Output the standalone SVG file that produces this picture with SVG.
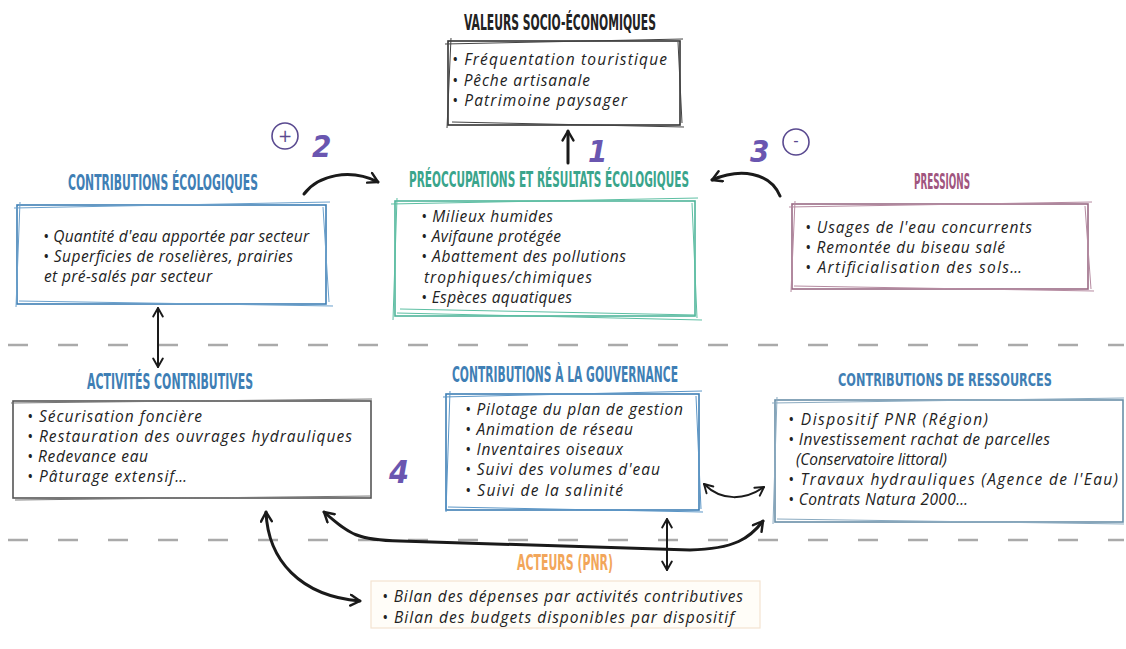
<svg xmlns="http://www.w3.org/2000/svg" width="1126" height="649" viewBox="0 0 1126 649">
<style>
.t{font-family:"DejaVu Sans Condensed","Liberation Sans",sans-serif;font-weight:bold;font-size:21px;text-anchor:middle}
.b{font-family:"Open Sans","Liberation Sans",sans-serif;font-style:italic;font-size:15.5px;fill:#222}
.n{font-family:"DejaVu Sans Condensed","Liberation Sans",sans-serif;font-weight:bold;font-style:italic;fill:#6a56b0}
.dash{stroke:#aaa;stroke-width:2.5;stroke-dasharray:20 30;fill:none}
.a{fill:none;stroke:#1a1a1a;stroke-width:3;stroke-linecap:round}
.a2{fill:none;stroke:#1a1a1a;stroke-width:2;stroke-linecap:round}
.bx{fill:#fff;stroke-width:1.6}
.sk{fill:none;stroke-width:1}
</style>
<defs>
<marker id="h" viewBox="0 0 10 10" refX="8" refY="5" markerWidth="4.5" markerHeight="4.5" orient="auto-start-reverse" markerUnits="strokeWidth">
<path d="M1,1 L8,5 L1,9" fill="none" stroke="#1a1a1a" stroke-width="1.8" stroke-linecap="round" stroke-linejoin="round"/>
</marker>
<marker id="h2" viewBox="0 0 10 10" refX="8" refY="5" markerWidth="6" markerHeight="6" orient="auto-start-reverse" markerUnits="strokeWidth">
<path d="M1,1 L8,5 L1,9" fill="none" stroke="#1a1a1a" stroke-width="1.6" stroke-linecap="round" stroke-linejoin="round"/>
</marker>
</defs>
<rect width="1126" height="649" fill="#fff"/>

<g id="separators">
<line class="dash" x1="8" y1="345" x2="1124" y2="345"/>
<line class="dash" x1="8" y1="540" x2="1124" y2="540"/>
</g>

<g id="valeurs">
<text class="t" x="560" y="30" fill="#222" textLength="192" lengthAdjust="spacingAndGlyphs">VALEURS SOCIO-ÉCONOMIQUES</text>
<rect class="bx" x="448" y="41" width="232" height="84" stroke="#333"/>
<path class="sk" stroke="#444" d="M445,44 L683,39 M452,122 L684,127 M451,38 L447,128 M678,42 L682,123"/>
<text class="b" x="452" y="65" textLength="215">• Fréquentation touristique</text>
<text class="b" x="452" y="86" textLength="138">• Pêche artisanale</text>
<text class="b" x="452" y="106" textLength="175">• Patrimoine paysager</text>
</g>

<g id="preoccupations">
<text class="t" x="549" y="187" fill="#3aa58c" textLength="280" lengthAdjust="spacingAndGlyphs">PRÉOCCUPATIONS ET RÉSULTATS ÉCOLOGIQUES</text>
<rect class="bx" x="395" y="201" width="300" height="115" stroke="#4fb59a"/>
<path class="sk" stroke="#5dbfa3" d="M391,204 L698,198 M397,313 L702,320 M400,309 L696,315 M397,198 L393,320 M692,203 L697,318"/>
<text class="b" x="421" y="222" textLength="132">• Milieux humides</text>
<text class="b" x="421" y="242" textLength="140">• Avifaune protégée</text>
<text class="b" x="421" y="262" textLength="205">• Abattement des pollutions</text>
<text class="b" x="424" y="283" textLength="168">trophiques/chimiques</text>
<text class="b" x="421" y="303" textLength="151">• Espèces aquatiques</text>
</g>

<g id="contrib-eco">
<text class="t" x="163" y="190" fill="#3f7fb5" textLength="190" lengthAdjust="spacingAndGlyphs">CONTRIBUTIONS ÉCOLOGIQUES</text>
<rect class="bx" x="17" y="205" width="309" height="99" stroke="#3f7fb5"/>
<path class="sk" stroke="#6aa0cc" d="M14,208 L330,202 M19,301 L333,306 M20,202 L16,307 M323,207 L329,302"/>
<text class="b" x="43" y="242" textLength="266">• Quantité d'eau apportée par secteur</text>
<text class="b" x="43" y="262" textLength="250">• Superficies de roselières, prairies</text>
<text class="b" x="44" y="282" textLength="168">et pré-salés par secteur</text>
</g>

<g id="pressions">
<text class="t" x="942" y="189" fill="#a0557e" textLength="56" lengthAdjust="spacingAndGlyphs">PRESSIONS</text>
<rect class="bx" x="792" y="204" width="296" height="85" stroke="#9a6b85"/>
<path class="sk" stroke="#b58aa0" d="M789,207 L1092,202 M794,286 L1094,291 M795,201 L791,292 M1085,206 L1091,289"/>
<text class="b" x="805" y="233" textLength="227">• Usages de l'eau concurrents</text>
<text class="b" x="805" y="253" textLength="200">• Remontée du biseau salé</text>
<text class="b" x="805" y="273" textLength="217">• Artificialisation des sols…</text>
</g>

<g id="activites">
<text class="t" x="170" y="389" fill="#3f7fb5" textLength="166" lengthAdjust="spacingAndGlyphs">ACTIVITÉS CONTRIBUTIVES</text>
<rect class="bx" x="13" y="401" width="358" height="97" stroke="#555"/>
<path class="sk" stroke="#777" d="M11,403 L372,399 M15,500 L372,496"/>
<text class="b" x="27" y="422" textLength="175">• Sécurisation foncière</text>
<text class="b" x="27" y="442" textLength="325">• Restauration des ouvrages hydrauliques</text>
<text class="b" x="27" y="462" textLength="121">• Redevance eau</text>
<text class="b" x="27" y="482" textLength="160">• Pâturage extensif…</text>
</g>

<g id="gouvernance">
<text class="t" x="565" y="382" fill="#3f7fb5" textLength="226" lengthAdjust="spacingAndGlyphs">CONTRIBUTIONS À LA GOUVERNANCE</text>
<rect class="bx" x="446" y="394" width="253" height="116" stroke="#3f7fb5"/>
<path class="sk" stroke="#5a95c6" d="M443,397 L702,391 M448,507 L703,512 M450,391 L446,512 M696,396 L701,509"/>
<text class="b" x="465" y="415" textLength="218">• Pilotage du plan de gestion</text>
<text class="b" x="465" y="435" textLength="168">• Animation de réseau</text>
<text class="b" x="465" y="455" textLength="158">• Inventaires oiseaux</text>
<text class="b" x="465" y="475" textLength="195">• Suivi des volumes d'eau</text>
<text class="b" x="465" y="496" textLength="158">• Suivi de la salinité</text>
</g>

<g id="ressources">
<text class="t" x="945" y="386" fill="#3f7fb5" style="font-size:18px" textLength="214" lengthAdjust="spacingAndGlyphs">CONTRIBUTIONS DE RESSOURCES</text>
<rect class="bx" x="775" y="400" width="348" height="122" stroke="#6a8fa8"/>
<path class="sk" stroke="#8aaac0" d="M772,403 L1124,398 M777,519 L1124,524 M777,397 L773,524"/>
<text class="b" x="788" y="425" textLength="200">• Dispositif PNR (Région)</text>
<text class="b" x="788" y="445" textLength="262">• Investissement rachat de parcelles</text>
<text class="b" x="796" y="465" textLength="151">(Conservatoire littoral)</text>
<text class="b" x="788" y="485" textLength="330">• Travaux hydrauliques (Agence de l'Eau)</text>
<text class="b" x="788" y="505" textLength="180">• Contrats Natura 2000…</text>
</g>

<g id="acteurs">
<text class="t" x="565" y="570" fill="#f2a65a" textLength="96" lengthAdjust="spacingAndGlyphs">ACTEURS (PNR)</text>
<rect x="371" y="581" width="389" height="47" fill="#fffdf8" stroke="#f3e3d0" stroke-width="1.2"/>
<text class="b" x="382" y="602" textLength="361">• Bilan des dépenses par activités contributives</text>
<text class="b" x="382" y="623" textLength="352">• Bilan des budgets disponibles par dispositif</text>
</g>

<g id="labels">
<circle cx="285" cy="136" r="13" fill="none" stroke="#5a4a90" stroke-width="1.6"/>
<text x="285" y="142" font-family="DejaVu Sans,sans-serif" font-size="17" fill="#5a4a90" text-anchor="middle">+</text>
<text class="n" x="312" y="157" font-size="31">2</text>
<text class="n" x="588" y="162" font-size="31">1</text>
<text class="n" x="750" y="162" font-size="31">3</text>
<circle cx="796" cy="142" r="13" fill="none" stroke="#5a4a90" stroke-width="1.6"/>
<text x="796" y="146" font-family="DejaVu Sans,sans-serif" font-size="15" fill="#5a4a90" text-anchor="middle">-</text>
<text class="n" x="389" y="483" font-size="32">4</text>
</g>

<g id="connectors">
<line class="a" x1="568" y1="163" x2="568" y2="131" marker-end="url(#h)"/>
<path class="a" d="M304,194 C318,175 350,168 378,182" marker-end="url(#h)"/>
<path class="a" d="M780,196 C770,172 740,168 712,180" marker-end="url(#h)"/>
<line class="a2" x1="158" y1="308" x2="158" y2="367" marker-start="url(#h2)" marker-end="url(#h2)"/>
<path class="a2" d="M704,484 C722,502 745,500 764,487" marker-start="url(#h2)" marker-end="url(#h2)"/>
<line class="a2" x1="667" y1="519" x2="667" y2="570" marker-start="url(#h2)" marker-end="url(#h2)"/>
<path class="a" d="M266,512 C268,560 300,596 360,601" marker-start="url(#h)" marker-end="url(#h)"/>
<path class="a" d="M324,512 C350,535 358,540 400,541 L690,550 C735,549 750,538 763,521" marker-start="url(#h)" marker-end="url(#h)"/>
</g>
</svg>
